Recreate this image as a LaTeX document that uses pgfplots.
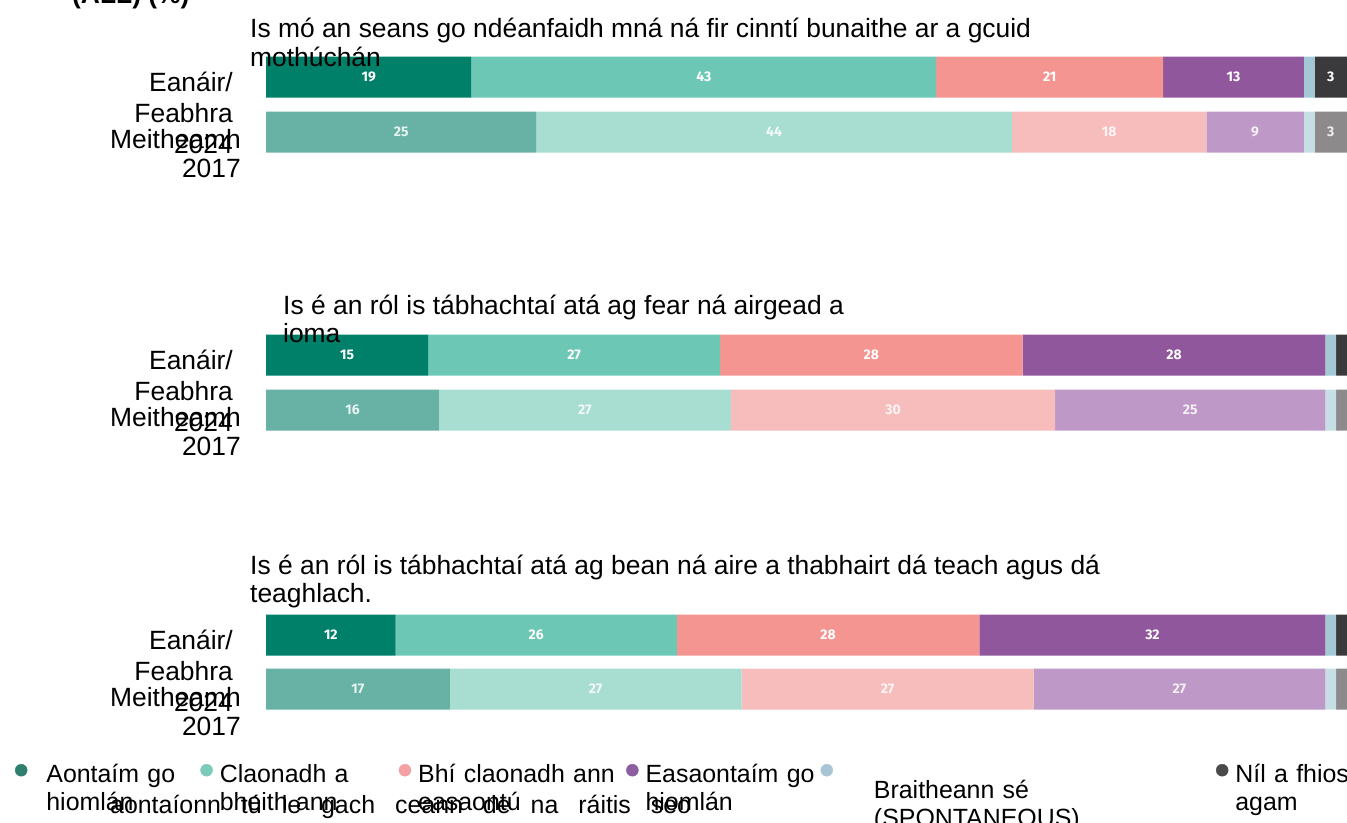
\documentclass[border=0pt]{standalone}
\usepackage{fontspec}
\setmainfont{Liberation Sans}
\newfontfamily\numfont{Fira Sans}
\usepackage{pgfplots}
\usepackage{pgfplotstable}
\pgfplotsset{compat=1.18}

\definecolor{a1}{HTML}{008069}
\definecolor{a2}{HTML}{6CC7B4}
\definecolor{a3}{HTML}{F49591}
\definecolor{a4}{HTML}{91579C}
\definecolor{a5}{HTML}{A3C9D6}
\definecolor{a6}{HTML}{3A3A3C}
\definecolor{b1}{HTML}{67B2A5}
\definecolor{b2}{HTML}{A8DDD2}
\definecolor{b3}{HTML}{F7BDBC}
\definecolor{b4}{HTML}{BE98C6}
\definecolor{b5}{HTML}{C6DFE5}
\definecolor{b6}{HTML}{8C8A8B}
\definecolor{m1}{HTML}{2E7F6E}
\definecolor{m2}{HTML}{7CCBB8}
\definecolor{m3}{HTML}{F4A0A5}
\definecolor{m4}{HTML}{8E5FA0}
\definecolor{m5}{HTML}{A9C5D3}
\definecolor{m6}{HTML}{4A4A4A}

% 2024 rows (y = vertical position of the bar)
\pgfplotstableread{
y   a  b  c  d  e f
77  19 43 21 13 1 3
355 15 27 28 28 1 1
635 12 26 28 32 1 1
}\dataA
% 2017 rows
\pgfplotstableread{
y   a  b  c  d  e f
132 25 44 18 9  1 3
410 16 27 30 25 1 1
689 17 27 27 27 1 1
}\dataB

\pgfplotsset{base/.style={
  at={(0bp,0bp)}, anchor=north west, scale only axis,
  width=1347bp, height=823bp,
  xmin=-24.607, xmax=100, ymin=0, ymax=823, y dir=reverse,
  enlargelimits=false, hide axis,
  xbar stacked, bar width=41bp,
  visualization depends on=rawx\as\rawx,
  nodes near coords={\ifdim\rawx pt<2pt\relax\else\pgfmathprintnumber[fixed,precision=0,assume math mode=true]{\rawx}\fi},
  every node near coord/.append style={anchor=center,
     font=\numfont\bfseries\fontsize{14}{14}\selectfont, text=white},
}}
\newcommand\mk[2]{\addlegendimage{legend image code/.code={\fill[#1] (6bp,-6bp) circle (6bp);\path (0bp,0bp) (#2,0bp);}}}

\begin{document}
\begin{tikzpicture}[every node/.style={inner sep=0pt}]
\fontsize{26.5}{31}\selectfont
\begin{axis}[base,
  legend columns=6,
  legend style={at={(axis cs:-23.22,764)}, anchor=north west, draw=none, fill=none,
     inner sep=0pt, outer sep=0pt, column sep=0pt, row sep=0pt,
     cells={anchor=north west},
     nodes={inner sep=0pt, align=left},
     font=\fontsize{25}{28}\selectfont},
]
\mk{m1}{31bp}\addlegendentry[text width=154bp]{Aontaím go\\hiomlán}
\mk{m2}{19bp}\addlegendentry[text width=179bp]{Claonadh a\\bheith ann}
\mk{m3}{19bp}\addlegendentry[text width=208bp]{Bhí claonadh ann\\easaontú}
\mk{m4}{19bp}\addlegendentry[text width=175bp]{Easaontaím go\\hiomlán}
\mk{m5}{53bp}\addlegendentry[text width=342bp, yshift=-16bp]{Braitheann sé\\(SPONTANEOUS)}
\mk{m6}{19bp}\addlegendentry[text width=114bp]{Níl a fhios\\agam}
\addplot[fill=a1, draw=none] table[x=a, y=y]{\dataA};
\addplot[fill=a2, draw=none] table[x=b, y=y]{\dataA};
\addplot[fill=a3, draw=none] table[x=c, y=y]{\dataA};
\addplot[fill=a4, draw=none] table[x=d, y=y]{\dataA};
\addplot[fill=a5, draw=none] table[x=e, y=y]{\dataA};
\addplot[fill=a6, draw=none] table[x=f, y=y]{\dataA};
\end{axis}
\begin{axis}[base,
  every node near coord/.append style={text=white, text opacity=0.85}]
\addplot[fill=b1, draw=none] table[x=a, y=y]{\dataB};
\addplot[fill=b2, draw=none] table[x=b, y=y]{\dataB};
\addplot[fill=b3, draw=none] table[x=c, y=y]{\dataB};
\addplot[fill=b4, draw=none] table[x=d, y=y]{\dataB};
\addplot[fill=b5, draw=none] table[x=e, y=y]{\dataB};
\addplot[fill=b6, draw=none] table[x=f, y=y]{\dataB};
\end{axis}

% partially cut heading
\node[anchor=base west, font=\bfseries] at (72bp,-3bp) {(ALL) (\%)};
% question titles
\node[anchor=base west] at (250bp,-37bp) {Is mó an seans go ndéanfaidh mná ná fir cinntí bunaithe ar a gcuid};
\node[anchor=base west] at (250bp,-66bp) {mothúchán};
\node[anchor=base west] at (283bp,-314bp) {Is é an ról is tábhachtaí atá ag fear ná airgead a};
\node[anchor=base west] at (283bp,-342bp) {ioma};
\node[anchor=base west] at (250bp,-574bp) {Is é an ról is tábhachtaí atá ag bean ná aire a thabhairt dá teach agus dá};
\node[anchor=base west] at (250bp,-602bp) {teaghlach.};
% row labels
\foreach \c in {77,355,635}{
  \node[anchor=base east] at (233bp,{-(\c+14)*1bp}) {Eanáir/};
  \node[anchor=base east] at (233bp,{-(\c+45)*1bp}) {Feabhra};
  \node[anchor=base east] at (233bp,{-(\c+76)*1bp}) {2024};
  \node[anchor=base east] at (241bp,{-(\c+71)*1bp}) {Meitheamh};
  \node[anchor=base east] at (241bp,{-(\c+100)*1bp}) {2017};
}
% stray overlapping text line in the legend area
\node[anchor=base west, font=\fontsize{25}{28}\selectfont] at (110bp,-813bp) {\spaceskip=20bp aontaíonn tú le gach ceann de na ráitis seo};

\pgfresetboundingbox
\useasboundingbox (0bp,0bp) rectangle (1347bp,-823bp);
\end{tikzpicture}
\end{document}
